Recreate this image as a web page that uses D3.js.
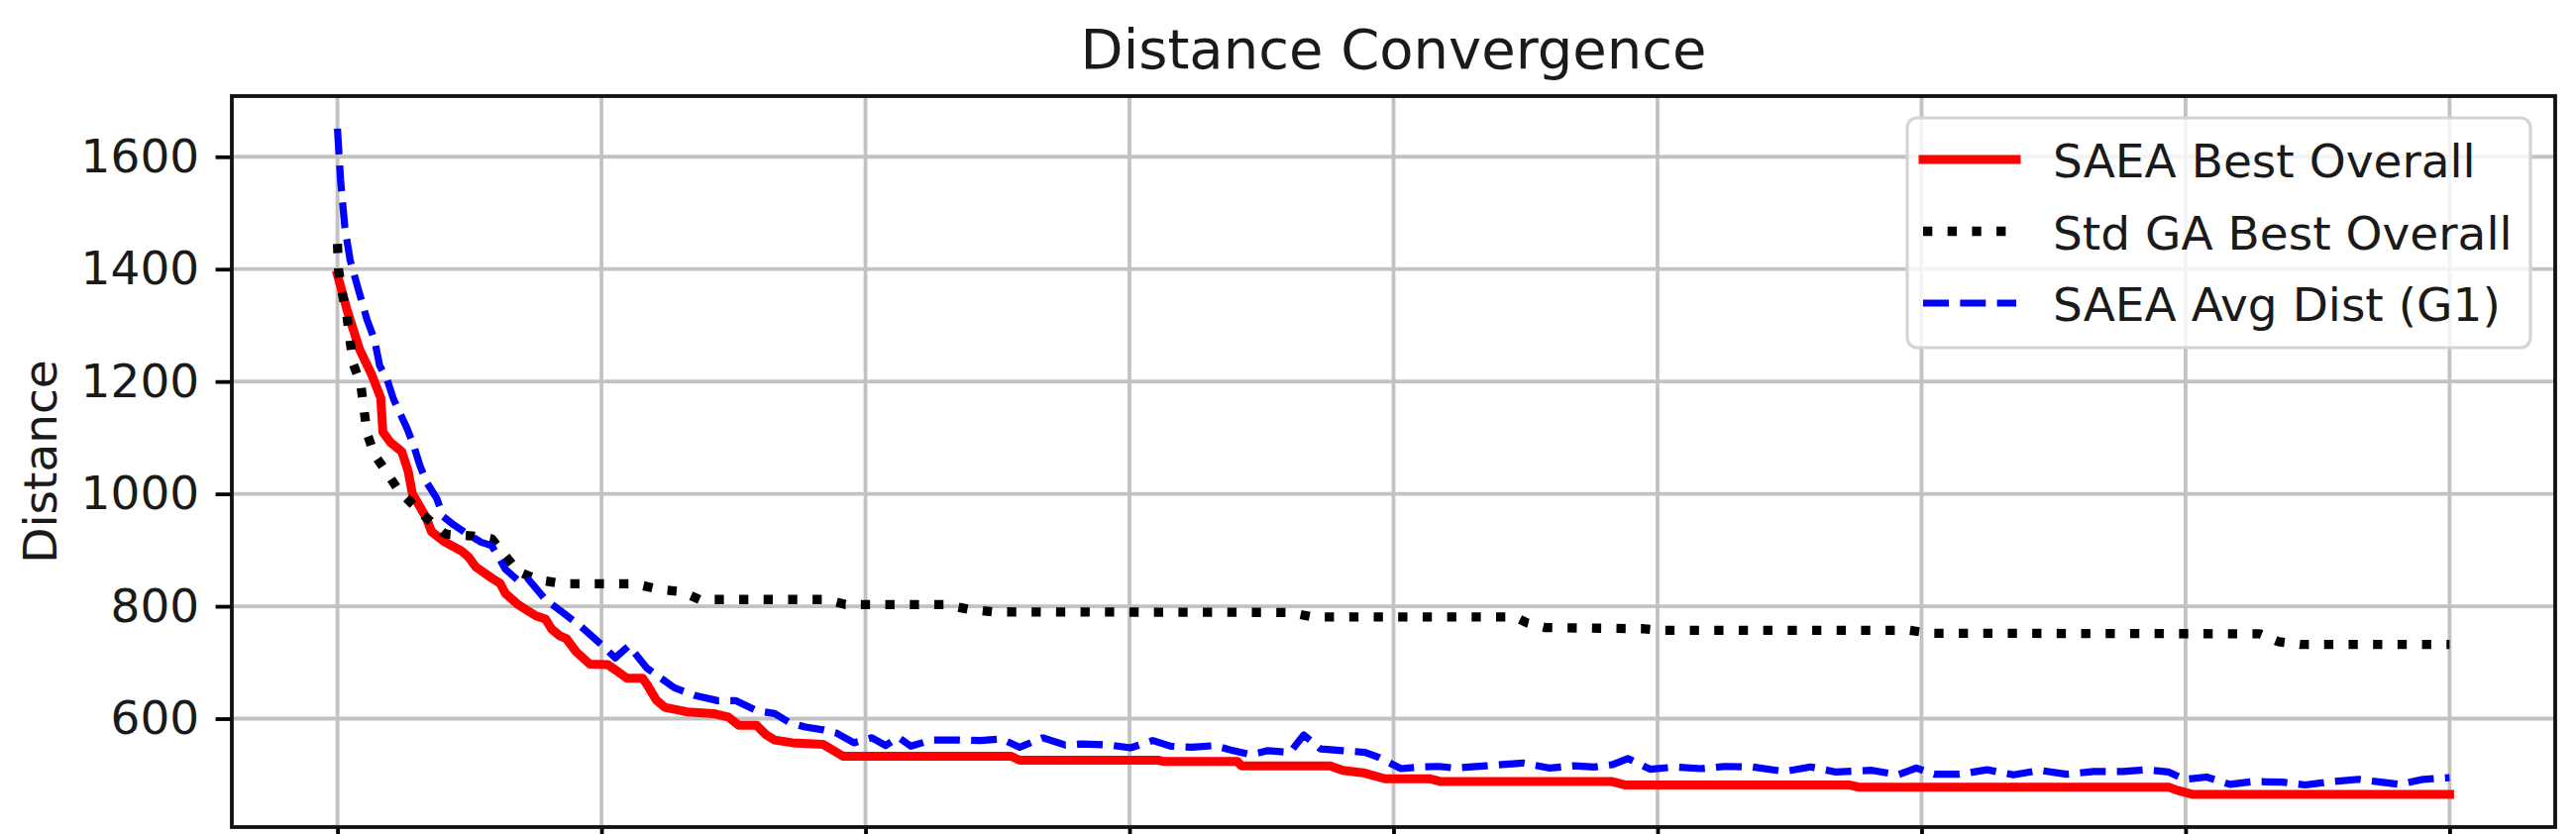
<!DOCTYPE html>
<html><head><meta charset="utf-8">
<script src="https://cdn.jsdelivr.net/npm/d3@7"></script>
<style>html,body{margin:0;padding:0;background:#fff;} svg{display:block;}</style>
</head><body>
<svg id="chart" width="2600" height="842"></svg>
<script>
// ---- data ----
const chartTitle = "Distance Convergence";
const yLabel = "Distance";
const seriesNames = ["SAEA Best Overall", "Std GA Best Overall", "SAEA Avg Dist (G1)"];

const genRed = [0,0.9,2.1,3.2,4.1,4.3,5.0,6.1,6.7,7.1,8.4,8.9,10.1,11.7,12.4,13.1,14.7,15.4,15.9,17.1,18.8,19.7,20.3,21.0,21.7,22.6,23.9,25.6,26.3,27.4,28.9,29.3,30.2,31.0,33.1,35.6,37.0,38.0,39.7,40.6,41.4,43.1,46.0,46.8,47.9,63.8,64.6,77.7,78.2,85.2,85.6,94.0,95.2,97.3,99.2,103.4,104.5,120.7,121.9,143.1,144.1,173.4,174.3,175.7,200];
const saeaBest = [1390,1328,1257,1214,1171,1110,1092,1075,1040,1000,958,933,915,899,888,870,849,841,823,803,783,777,759,748,742,719,697,696,687,672,672,661,633,620,612,609,603,588,588,571,562,557,554,545,533,533,526,526,524,524,516,516,508,503,493,493,488,488,482,482,478,478,472,465,465];

const genGA = [0,0.1,0.4,0.9,1.2,1.5,2.2,2.5,2.8,3.5,4.6,5.8,8.4,10.0,10.4,13.6,14.6,17.1,19.0,21.4,28.2,30.4,32.6,34.3,46.3,48.1,57.5,59.7,62.1,90.2,92.3,111.5,112.7,114.4,123.7,125.5,148.9,150.8,182.0,183.8,185.9,200];
const gaBest = [1445,1400,1362,1316,1272,1231,1196,1152,1108,1070,1040,1006,958,931,928,924,920,862,847,840,840,830,826,812,812,803,803,795,790,789,781,781,770,762,760,757,757,752,751,737,732,732];

const genAvg = [0,0.3,0.7,1.2,1.9,2.8,3.5,4.0,4.7,5.3,6.6,7.2,7.8,8.4,9.4,10.0,11.0,12.2,13.6,14.6,15.3,15.9,17.1,17.9,19.7,21.4,23.0,25.1,26.3,27.6,29.3,31.9,33.9,36.0,37.7,39.7,41.4,42.8,44.3,46.0,47.3,48.9,50.6,51.9,53.1,54.3,56.3,58.8,60.9,62.9,64.6,66.8,68.9,70.5,73.1,75.1,77.2,78.9,80.9,83.1,84.8,86.5,88.1,90.2,91.5,93.1,95.2,97.3,98.6,100.7,102.7,104.3,105.8,108.8,112.2,114.8,117.1,119.0,120.7,122.2,124.3,126.7,129.1,131.4,134.0,137.0,139.5,141.9,145.3,147.8,149.5,151.2,153.6,156.2,158.7,161.2,163.7,166.3,169.1,171.2,173.4,174.9,177.0,179.2,181.4,184.2,186.3,188.9,191.4,193.5,195.3,197.5,200];
const saeaAvg = [1650,1558,1475,1416,1369,1310,1275,1228,1204,1169,1116,1087,1051,1022,992,960,945,930,914,908,886,866,846,852,812,788,765,730,708,730,690,655,641,632,632,614,609,593,585,580,574,557,566,552,567,551,562,562,561,564,549,566,553,555,553,548,561,551,549,552,543,536,543,540,571,546,543,540,531,511,514,515,512,516,521,512,516,514,518,529,510,514,511,515,514,506,514,505,508,500,512,501,501,509,500,508,501,506,506,509,505,492,496,483,488,487,482,488,492,487,483,492,495];

const yTicks = [600,800,1000,1200,1400,1600];
const xTicks = [0,25,50,75,100,125,150,175,200];

// ---- layout ----
const W = 2600, H = 842;
const M = {left:234, right:2579, top:97, bottom:835};
const FONT = "'DejaVu Sans', sans-serif";

const x = d3.scaleLinear().domain([-10,210]).range([M.left, M.right]);
const y = d3.scaleLinear().domain([407,1708]).range([M.bottom, M.top]);

const svg = d3.select('#chart');
svg.append('rect').attr('width',W).attr('height',H).attr('fill','#fff');

svg.append('clipPath').attr('id','plotclip').append('rect')
  .attr('x',M.left).attr('y',M.top).attr('width',M.right-M.left).attr('height',M.bottom-M.top);

// grid
const grid = svg.append('g').attr('clip-path','url(#plotclip)');
grid.selectAll('line.vx').data(xTicks).enter().append('line')
  .attr('x1',d=>x(d)).attr('x2',d=>x(d)).attr('y1',M.top).attr('y2',M.bottom)
  .attr('stroke','#c2c2c2').attr('stroke-width',3.8);
grid.selectAll('line.hy').data(yTicks).enter().append('line')
  .attr('x1',M.left).attr('x2',M.right).attr('y1',d=>y(d)).attr('y2',d=>y(d))
  .attr('stroke','#c2c2c2').attr('stroke-width',3.8);

// lines
const line = d3.line().x(d=>x(d[0])).y(d=>y(d[1]));
const plot = svg.append('g').attr('clip-path','url(#plotclip)');
const styles = [
  {color:'#ff0000', width:9, dash:null, cap:'square'},
  {color:'#000000', width:9.3, dash:'9.3 15.4', cap:'butt'},
  {color:'#0000ff', width:7.2, dash:'26 11.3', cap:'butt'}
];
const seriesData = [d3.zip(genRed, saeaBest), d3.zip(genGA, gaBest), d3.zip(genAvg, saeaAvg)];
seriesData.forEach((data,i)=>{
  const s = styles[i];
  const p = plot.append('path').datum(data).attr('d',line)
    .attr('fill','none').attr('stroke',s.color).attr('stroke-width',s.width)
    .attr('stroke-linejoin','round').attr('stroke-linecap',s.cap);
  if (s.dash) p.attr('stroke-dasharray',s.dash);
});

// axes
const yAxis = svg.append('g').attr('transform',`translate(${M.left},0)`)
  .call(d3.axisLeft(y).tickValues(yTicks).tickSize(16.4).tickPadding(16.4).tickFormat(d3.format('d')));
yAxis.select('.domain').remove();
yAxis.selectAll('.tick line').attr('stroke','#000').attr('stroke-width',3.8);
yAxis.selectAll('.tick text').attr('font-family',FONT).attr('font-size',47).attr('fill','#1a1a1a');

const xAxis = svg.append('g').attr('transform',`translate(0,${M.bottom})`)
  .call(d3.axisBottom(x).tickValues(xTicks).tickSize(16.4).tickFormat(()=>''));
xAxis.select('.domain').remove();
xAxis.selectAll('.tick line').attr('stroke','#000').attr('stroke-width',3.8);

// spines
svg.append('rect').attr('x',M.left).attr('y',M.top)
  .attr('width',M.right-M.left).attr('height',M.bottom-M.top)
  .attr('fill','none').attr('stroke','#111').attr('stroke-width',3.8);

// title
svg.append('text').attr('x',(M.left+M.right)/2).attr('y',69)
  .attr('text-anchor','middle').attr('font-family',FONT).attr('font-size',56)
  .attr('fill','#1a1a1a').text(chartTitle);

// y label
svg.append('text').attr('transform',`translate(57,${(M.top+M.bottom)/2}) rotate(-90)`)
  .attr('text-anchor','middle').attr('font-family',FONT).attr('font-size',47)
  .attr('fill','#1a1a1a').text(yLabel);

// legend
const lg = svg.append('g');
lg.append('rect').attr('x',1925).attr('y',119).attr('width',629).attr('height',232)
  .attr('rx',10).attr('fill','#fff').attr('fill-opacity',0.8)
  .attr('stroke','#d4d4d4').attr('stroke-width',3.2);
seriesNames.forEach((name,i)=>{
  const ry = 161 + i*72.5;
  const s = styles[i];
  const l = lg.append('line').attr('x1',1941).attr('x2',2035).attr('y1',ry).attr('y2',ry)
    .attr('stroke',s.color).attr('stroke-width',s.width).attr('stroke-linecap',s.cap);
  if (s.dash) l.attr('stroke-dasharray',s.dash);
  lg.append('text').attr('x',2072).attr('y',ry+2).attr('dy','0.35em')
    .attr('font-family',FONT).attr('font-size',47).attr('fill','#1a1a1a').text(name);
});
</script>
</body></html>
